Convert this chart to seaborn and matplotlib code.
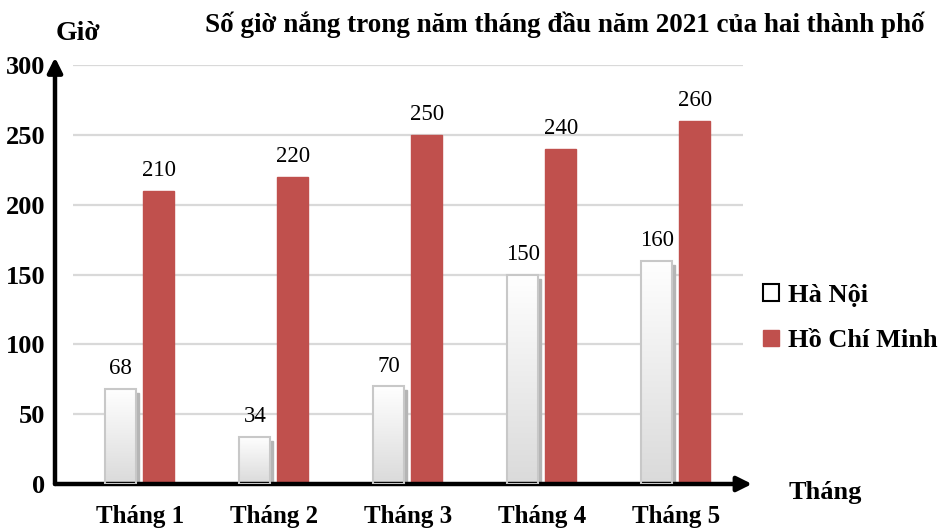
import numpy as np
import pandas as pd
import matplotlib
matplotlib.use('Agg')
import matplotlib.pyplot as plt
from matplotlib.colors import LinearSegmentedColormap
from matplotlib.patches import Rectangle
import seaborn as sns

# Data
months = ['Tháng 1', 'Tháng 2', 'Tháng 3', 'Tháng 4', 'Tháng 5']
hanoi = [68, 34, 70, 150, 160]
hcm = [210, 220, 250, 240, 260]
cities = ['Hà Nội', 'Hồ Chí Minh']

df = pd.DataFrame({
    'Tháng': months * 2,
    'Giờ': hanoi + hcm,
    'Thành phố': [cities[0]] * len(months) + [cities[1]] * len(months),
})

sns.set_theme(style='white')
plt.rcParams['font.family'] = ['Liberation Serif', 'DejaVu Serif']
plt.rcParams['text.color'] = 'black'
plt.rcParams['xtick.color'] = 'black'
plt.rcParams['ytick.color'] = 'black'

red = '#C0504D'
W, H = 940, 529
fig = plt.figure(figsize=(W / 100, H / 100), dpi=100)
ax = fig.add_axes([55 / W, 45 / H, (752 - 55) / W, 419 / H])

sns.barplot(data=df, x='Tháng', y='Giờ', hue='Thành phố',
            palette=['white', red], saturation=1, width=0.567, gap=0.184,
            legend=False, ax=ax, zorder=3)

xmin, xmax = -0.634, 4.57

# light gridlines
for yv in range(50, 301, 50):
    ax.hlines(yv, -0.5, 4.5, color='#D9D9D9', lw=1.6, zorder=0)

# Hà Nội bars: white-to-grey gradient with a soft shadow
cmap = LinearSegmentedColormap.from_list('g', ['#DADADA', '#FFFFFF'])
grad = np.linspace(0, 1, 256).reshape(-1, 1)
for p in ax.containers[0]:
    x0, w, h = p.get_x(), p.get_width(), p.get_height()
    p.set_facecolor('none')
    p.set_edgecolor('#C8C8C8')
    p.set_linewidth(1.5)
    p.set_zorder(4)
    ax.add_patch(Rectangle((x0 + 0.02, 0), w, h - 3, color='#B5B5B5', zorder=2))
    im = ax.imshow(grad, extent=(x0, x0 + w, 0, h), origin='lower',
                   cmap=cmap, aspect='auto', zorder=3)
    im.set_clip_path(p)
for p in ax.containers[1]:
    p.set_edgecolor(red)

ax.set_xlim(xmin, xmax)
ax.set_ylim(0, 300)

# value labels
for c in ax.containers:
    ax.bar_label(c, fontsize=16.5, padding=7, color='black')

for s in ax.spines.values():
    s.set_visible(False)
ax.set_xlabel('')
ax.set_ylabel('')
ax.set_yticks(range(0, 301, 50))
ax.tick_params(axis='both', length=0)
ax.tick_params(axis='y', pad=7, labelsize=19)
ax.tick_params(axis='x', pad=15, labelsize=18)
for t in ax.get_xticklabels() + ax.get_yticklabels():
    t.set_fontweight('bold')

# axes with arrows
arrow = dict(arrowstyle='-|>', lw=3.2, color='black', mutation_scale=22,
             shrinkA=0, shrinkB=0)
ax.annotate('', xy=(1.0, 0), xytext=(0, 0), xycoords='axes fraction',
            arrowprops=arrow, annotation_clip=False)
ax.annotate('', xy=(0, 1.018), xytext=(0, 0), xycoords='axes fraction',
            arrowprops=arrow, annotation_clip=False)

fig.text(565 / W, 1 - 25 / H,
         'Số giờ nắng trong năm tháng đầu năm 2021 của hai thành phố',
         ha='center', va='center', fontsize=19.5, fontweight='bold')
fig.text(78 / W, 1 - 33 / H, 'Giờ', ha='center', va='center',
         fontsize=20, fontweight='bold')
fig.text(825 / W, 1 - 492 / H, 'Tháng', ha='center', va='center',
         fontsize=19, fontweight='bold')

handles = [Rectangle((0, 0), 1, 1, facecolor='white', edgecolor='black', lw=1.5),
           Rectangle((0, 0), 1, 1, facecolor=red, edgecolor=red)]
fig.legend(handles, cities, loc='center left',
           bbox_to_anchor=(763 / W, 1 - 318 / H), frameon=False,
           prop={'weight': 'bold', 'size': 19}, handlelength=0.6,
           handleheight=0.6, handletextpad=0.35, labelspacing=0.85,
           borderaxespad=0, borderpad=0)

fig.savefig('out.png', dpi=100)
